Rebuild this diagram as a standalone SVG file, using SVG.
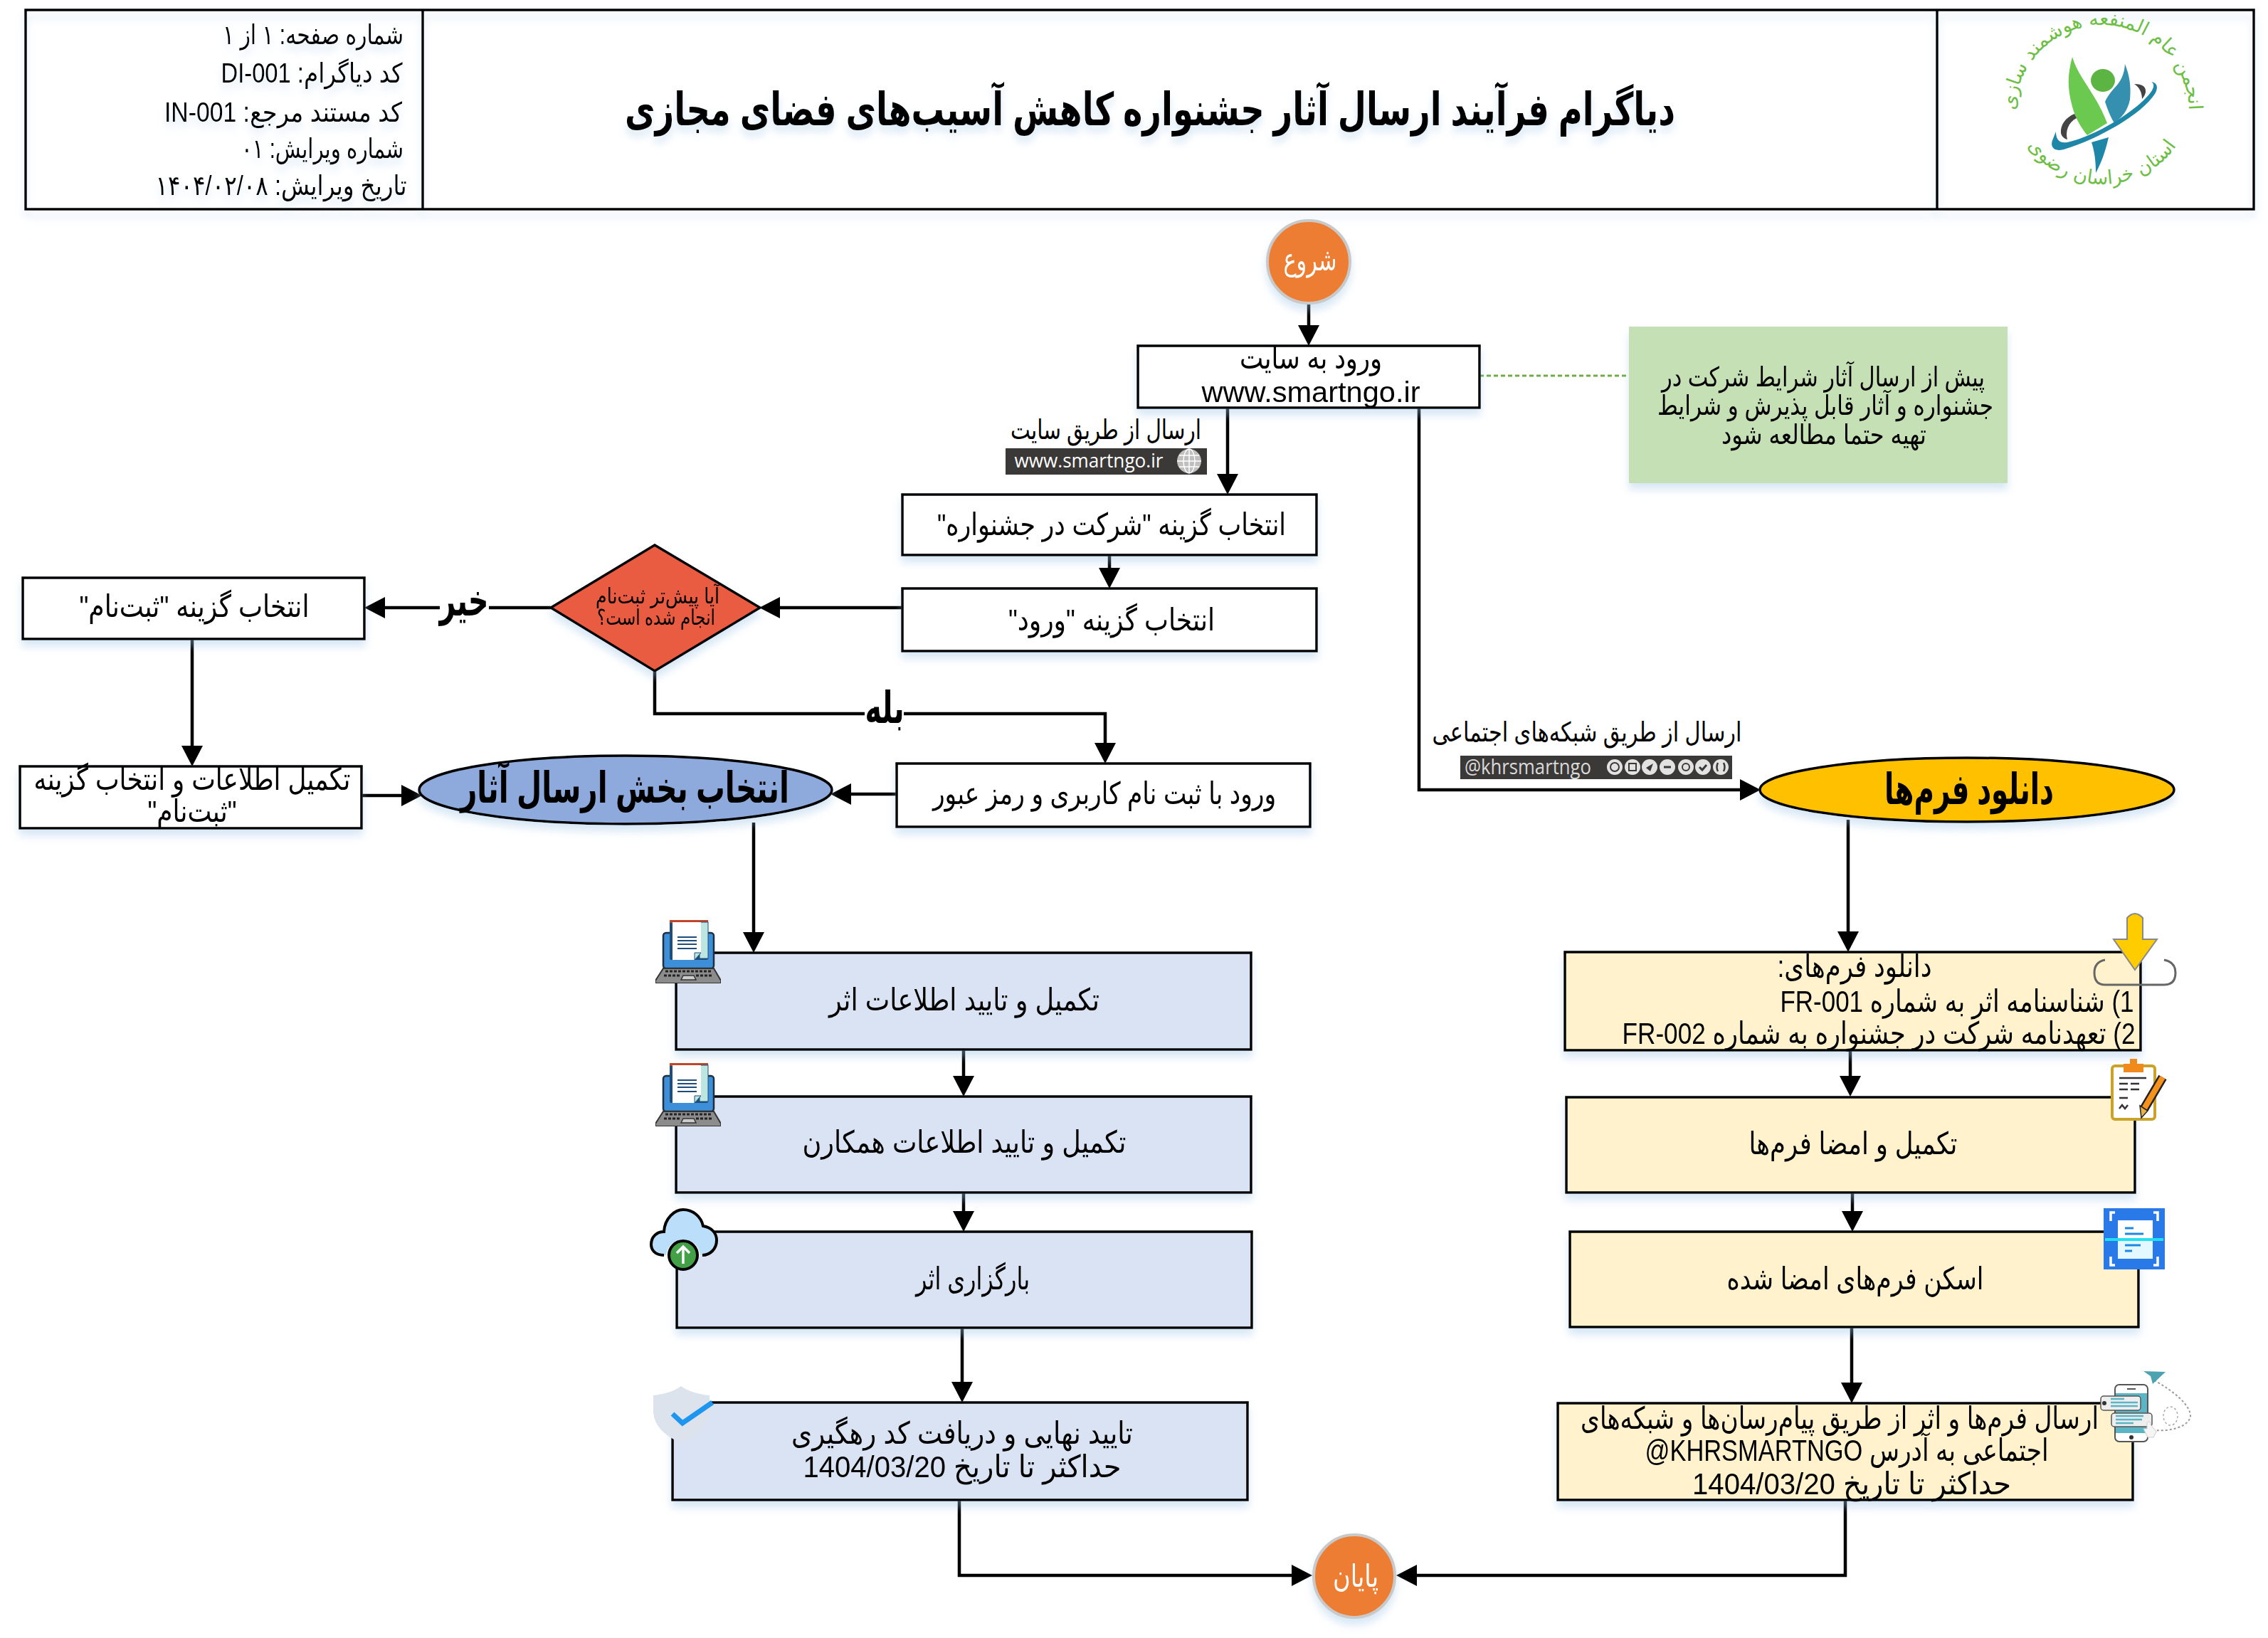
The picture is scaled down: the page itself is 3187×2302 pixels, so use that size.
<svg xmlns="http://www.w3.org/2000/svg" width="3187" height="2302" viewBox="0 0 3187 2302">
<style>
text{font-family:"Liberation Sans","DejaVu Sans",sans-serif;direction:rtl;text-anchor:middle;fill:#000;font-size:43px}
.b{font-weight:bold}
.w{fill:#fff}
.h{font-size:38px}
.ti{font-weight:bold;font-size:64px}
.big{font-weight:bold;font-size:60px}
.n{font-size:38px}
.box{stroke:#000;stroke-width:3.5}
.wh{fill:#fff}.bl{fill:#DAE3F3}.ye{fill:#FFF2CC}
.s{filter:url(#sh)}
.con{fill:none;stroke:#000;stroke-width:4.5;marker-end:url(#arr)}
.ic{fill:#E2E2E2}
.lt{font-size:27px;fill:#6DBE45;font-family:"DejaVu Sans",sans-serif}
.dk{fill:#3B3838}
</style>
<defs>
<filter id="sh" x="-15%" y="-15%" width="130%" height="140%"><feDropShadow dx="0" dy="9" stdDeviation="6" flood-color="#9DC3E6" flood-opacity="0.4"/></filter>
<marker id="arr" markerUnits="userSpaceOnUse" markerWidth="30" markerHeight="30" refX="0" refY="15" orient="auto"><path d="M0 0L29 15L0 30Z" fill="#000"/></marker>
<symbol id="laptop" width="92" height="90" viewBox="0 0 92 90">
<rect x="11" y="19" width="71" height="50" rx="4" fill="#3D8FD9" stroke="#1F2F3F" stroke-width="2.5"/>
<rect x="20" y="1" width="54" height="56" rx="2" fill="#1E4E79"/>
<rect x="20" y="1" width="54" height="4" fill="#C0452A"/>
<rect x="62" y="4" width="12" height="51" fill="#BDE6E0" stroke="#1E4E79" stroke-width="1"/>
<path d="M24 4H64V46L55 57H24Z" fill="#fff"/>
<path d="M55 57V47H64Z" fill="#BDE6E0" stroke="#1E4E79" stroke-width="1"/>
<path d="M31 25H58M31 30H58M31 35H58M31 41H58" stroke="#1E4E79" stroke-width="2" fill="none"/>
<path d="M11 69H82L92 86V90H0V86Z" fill="#8C8C8C" stroke="#333" stroke-width="2"/>
<path d="M14 73H79M12 79H36M57 79H81" stroke="#222" stroke-width="3" stroke-dasharray="4 2" fill="none"/>
<path d="M36 85L39 79H54L57 85Z" fill="#ccc" stroke="#333" stroke-width="1.5"/>
</symbol>
</defs>

<g id="connectors">
<path class="con" d="M1839 426V457"/>
<path class="con" d="M1725 573V666"/>
<path class="con" d="M1994 573V1110H2445"/>
<path d="M2079 528H2289" fill="none" stroke="#70AD47" stroke-width="3" stroke-dasharray="6 4"/>
<path class="con" d="M1559 780V798"/>
<path class="con" d="M1269 854H1096"/>
<path class="con" d="M774 854H541"/>
<path class="con" d="M270 898V1048"/>
<path class="con" d="M508 1118H564"/>
<path class="con" d="M1260 1116H1196"/>
<path class="con" d="M920 943V1003H1553V1044"/>
<path class="con" d="M1059 1156V1310"/>
<path class="con" d="M1354 1476V1512"/>
<path class="con" d="M1354 1676V1702"/>
<path class="con" d="M1352 1866V1942"/>
<path class="con" d="M1348 2108V2214H1815"/>
<path class="con" d="M2597 1152V1309"/>
<path class="con" d="M2600 1476V1512"/>
<path class="con" d="M2603 1676V1702"/>
<path class="con" d="M2602 1865V1943"/>
<path class="con" d="M2593 2108V2214H1991"/>
</g>

<g id="header" class="s">
<rect x="36" y="14" width="3131" height="280" fill="none" stroke="#000" stroke-width="3.5"/>
<path d="M594 14V294M2722 14V294" stroke="#000" stroke-width="3.5" fill="none"/>
<text class="h" x="440" y="62" textLength="254" lengthAdjust="spacingAndGlyphs">شماره صفحه: ۱ از ۱</text>
<text class="h" x="438" y="116" textLength="255" lengthAdjust="spacingAndGlyphs">کد دیاگرام: DI-001</text>
<text class="h" x="398" y="171" textLength="334" lengthAdjust="spacingAndGlyphs">کد مستند مرجع: IN-001</text>
<text class="h" x="453" y="222" textLength="228" lengthAdjust="spacingAndGlyphs">شماره ویرایش: ۰۱</text>
<text class="h" x="395" y="274" textLength="353" lengthAdjust="spacingAndGlyphs">تاریخ ویرایش: ۱۴۰۴/۰۲/۰۸</text>
<text class="ti" x="1616" y="176" textLength="1476" lengthAdjust="spacingAndGlyphs">دیاگرام فرآیند ارسال آثار جشنواره کاهش آسیب&#8204;های فضای مجازی</text>
</g>

<g id="logo">
<path d="M2912 80C2905 105 2905 125 2912 150C2917 168 2925 180 2933 190L2961 173C2956 160 2950 148 2942 135C2930 115 2918 100 2912 80Z" fill="#6CC94F"/>
<ellipse cx="2955" cy="113" rx="17" ry="16" fill="#5CB543"/>
<path d="M2986 90C2985 105 2980 115 2970 125C2964 132 2960 138 2958 143C2962 155 2966 165 2971 173C2982 165 2990 155 2993 140C2995 120 2992 105 2986 90Z" fill="#3590B0"/>
<path d="M2939 200L2963 193C2958 215 2952 230 2945 243C2945 225 2943 212 2939 200Z" fill="#1E86A6"/>
<path d="M3023 115C3032 116 3033 124 3028 132C3010 160 2950 195 2900 210C2885 214 2880 205 2885 195C2887 190 2888 187 2889 185C2889 195 2893 202 2905 200C2950 190 3010 150 3024 127C3028 120 3026 117 3023 115Z" fill="#1E86A6"/>
<path d="M2999 118C3011 118 3016 122 3015 130C3014 134 3012 137 3010 139C3010 130 3006 122 2999 118Z" fill="#444"/>
<path d="M2915 160C2903 165 2895 175 2896 187C2897 192 2901 195 2905 196C2902 185 2906 172 2918 166Z" fill="#444"/>
<path id="lgA" d="M2838 195A122 122 0 1 1 3070 195" fill="none"/>
<path id="lgB" d="M2838 185A128 128 0 0 0 3070 185" fill="none"/>
<text class="lt"><textPath href="#lgA" startOffset="50%">انجمن عام المنفعه هوشمند سازی</textPath></text>
<text class="lt"><textPath href="#lgB" startOffset="50%">استان خراسان رضوی</textPath></text>
</g>

<g id="start" class="s"><circle cx="1839" cy="368" r="58" fill="#ED7D31" stroke="#C9C9C9" stroke-width="4"/><text class="w" x="1841" y="380" textLength="75" lengthAdjust="spacingAndGlyphs">شروع</text></g>

<g id="enter" class="s"><rect class="box wh" x="1599" y="486" width="480" height="87"/>
<text x="1842" y="518" textLength="200" lengthAdjust="spacingAndGlyphs">ورود به سایت</text>
<text x="1842" y="565" style="font-size:40px" textLength="307" lengthAdjust="spacingAndGlyphs">www.smartngo.ir</text></g>

<g id="note" class="s"><rect x="2289" y="459" width="532" height="220" fill="#C5E0B4"/>
<text class="n" x="2562" y="543" textLength="454" lengthAdjust="spacingAndGlyphs">پیش از ارسال آثار شرایط شرکت در</text>
<text class="n" x="2565" y="583" textLength="472" lengthAdjust="spacingAndGlyphs">جشنواره و آثار قابل پذیرش و شرایط</text>
<text class="n" x="2563" y="624" textLength="288" lengthAdjust="spacingAndGlyphs">تهیه حتما مطالعه شود</text></g>

<g id="label-site"><text class="n" x="1554" y="617" textLength="268" lengthAdjust="spacingAndGlyphs">ارسال از طریق سایت</text>
<rect class="dk" x="1413" y="630" width="283" height="37"/>
<text class="w" x="1530" y="657" style="font-size:28px;font-family:'Open Sans',sans-serif;direction:ltr" textLength="209" lengthAdjust="spacingAndGlyphs">www.smartngo.ir</text>
<circle cx="1671" cy="648" r="17" fill="#BFBFBF"/>
<path d="M1654 648H1688M1657 640H1685M1657 656H1685M1671 631V665" stroke="#fff" stroke-width="1.5" fill="none"/><ellipse cx="1671" cy="648" rx="8" ry="17" fill="none" stroke="#fff" stroke-width="1.5"/></g>

<g id="pick-festival" class="s"><rect class="box wh" x="1268" y="695" width="582" height="85"/>
<text x="1562" y="752" textLength="490" lengthAdjust="spacingAndGlyphs">انتخاب گزینه "شرکت در جشنواره"</text></g>

<g id="pick-login" class="s"><rect class="box wh" x="1268" y="827" width="582" height="88"/>
<text x="1562" y="886" textLength="290" lengthAdjust="spacingAndGlyphs">انتخاب گزینه "ورود"</text></g>

<g id="decision" class="s"><path d="M920 766L1068 854L920 943L774 854Z" fill="#E95B42" stroke="#000" stroke-width="3.5"/>
<text x="924" y="848" style="font-size:30px" textLength="174" lengthAdjust="spacingAndGlyphs">آیا پیش&#8204;تر ثبت&#8204;نام</text>
<text x="922" y="878" style="font-size:30px" textLength="166" lengthAdjust="spacingAndGlyphs">انجام شده است؟</text></g>

<g id="label-no"><rect x="618" y="838" width="69" height="32" fill="#fff"/><text class="b" x="652" y="865" style="font-size:62px" textLength="69" lengthAdjust="spacingAndGlyphs">خیر</text></g>
<g id="label-yes"><rect x="1215" y="988" width="55" height="28" fill="#fff"/><text class="b" x="1243" y="1016" style="font-size:62px" textLength="55" lengthAdjust="spacingAndGlyphs">بله</text></g>

<g id="pick-register" class="s"><rect class="box wh" x="32" y="812" width="480" height="86"/>
<text x="273" y="867" textLength="323" lengthAdjust="spacingAndGlyphs">انتخاب گزینه "ثبت&#8204;نام"</text></g>

<g id="fill-register" class="s"><rect class="box wh" x="28" y="1077" width="480" height="87"/>
<text x="270" y="1110" textLength="445" lengthAdjust="spacingAndGlyphs">تکمیل اطلاعات و انتخاب گزینه</text>
<text x="270" y="1155" textLength="125" lengthAdjust="spacingAndGlyphs">"ثبت&#8204;نام"</text></g>

<g id="select-section" class="s"><ellipse cx="879" cy="1110" rx="290" ry="48" fill="#8EA9DB" stroke="#000" stroke-width="3.5"/>
<text class="big" x="878" y="1128" textLength="462" lengthAdjust="spacingAndGlyphs">انتخاب بخش ارسال آثار</text></g>

<g id="login" class="s"><rect class="box wh" x="1260" y="1073" width="581" height="89"/>
<text x="1552" y="1130" textLength="482" lengthAdjust="spacingAndGlyphs">ورود با ثبت نام کاربری و رمز عبور</text></g>

<g id="download-forms" class="s"><ellipse cx="2764" cy="1110" rx="291" ry="45" fill="#FFC000" stroke="#000" stroke-width="3.5"/>
<text class="big" x="2767" y="1130" textLength="238" lengthAdjust="spacingAndGlyphs">دانلود فرم&#8204;ها</text></g>

<g id="label-social"><text class="n" x="2230" y="1042" textLength="435" lengthAdjust="spacingAndGlyphs">ارسال از طریق شبکه&#8204;های اجتماعی</text>
<rect class="dk" x="2052" y="1062" width="382" height="33"/>
<text x="2147" y="1088" style="font-size:30px;font-family:'Open Sans',sans-serif;direction:ltr;fill:#D9D9D9" textLength="178" lengthAdjust="spacingAndGlyphs">@khrsmartngo</text>
<circle class="ic" cx="2269" cy="1078" r="11"/><circle class="ic" cx="2294" cy="1078" r="11"/><circle class="ic" cx="2318" cy="1078" r="11"/><circle class="ic" cx="2343" cy="1078" r="11"/><circle class="ic" cx="2369" cy="1078" r="11"/><circle class="ic" cx="2393" cy="1078" r="11"/><circle class="ic" cx="2418" cy="1078" r="11"/>
<circle cx="2269" cy="1078" r="6" fill="none" stroke="#3B3838" stroke-width="2"/><rect x="2289" y="1073" width="10" height="10" fill="none" stroke="#3B3838" stroke-width="2"/><path d="M2313 1079L2323 1073L2319 1084Z" fill="#3B3838"/><path d="M2338 1078h10" stroke="#3B3838" stroke-width="3" fill="none"/><circle cx="2369" cy="1078" r="5" fill="none" stroke="#3B3838" stroke-width="2"/><path d="M2388 1078l4 4l6-7" stroke="#3B3838" stroke-width="3" fill="none"/><path d="M2414 1072q-3 6 0 12M2422 1072q3 6 0 12" stroke="#3B3838" stroke-width="2.5" fill="none"/></g>

<g id="info-work" class="s"><rect class="box bl" x="950" y="1339" width="808" height="136"/>
<text x="1355" y="1420" textLength="380" lengthAdjust="spacingAndGlyphs">تکمیل و تایید اطلاعات اثر</text></g>
<g id="info-team" class="s"><rect class="box bl" x="950" y="1541" width="808" height="135"/>
<text x="1355" y="1620" textLength="455" lengthAdjust="spacingAndGlyphs">تکمیل و تایید اطلاعات همکارن</text></g>
<g id="upload" class="s"><rect class="box bl" x="951" y="1731" width="808" height="135"/>
<text x="1367" y="1812" textLength="160" lengthAdjust="spacingAndGlyphs">بارگزاری اثر</text></g>
<g id="confirm" class="s"><rect class="box bl" x="945" y="1971" width="808" height="137"/>
<text x="1352" y="2029" textLength="480" lengthAdjust="spacingAndGlyphs">تایید نهایی و دریافت کد رهگیری</text>
<text x="1352" y="2076" textLength="447" lengthAdjust="spacingAndGlyphs">حداکثر تا تاریخ 1404/03/20</text></g>

<g id="forms-list" class="s"><rect class="box ye" x="2199" y="1338" width="809" height="138"/>
<text x="2606" y="1373" textLength="217" lengthAdjust="spacingAndGlyphs">دانلود فرم&#8204;های:</text>
<text x="2750" y="1422" textLength="497" lengthAdjust="spacingAndGlyphs">1) شناسنامه اثر به شماره FR-001</text>
<text x="2640" y="1467" textLength="721" lengthAdjust="spacingAndGlyphs">2) تعهدنامه شرکت در جشنواره به شماره FR-002</text></g>
<g id="sign-forms" class="s"><rect class="box ye" x="2201" y="1542" width="799" height="134"/>
<text x="2604" y="1622" textLength="293" lengthAdjust="spacingAndGlyphs">تکمیل و امضا فرم&#8204;ها</text></g>
<g id="scan-forms" class="s"><rect class="box ye" x="2206" y="1731" width="799" height="134"/>
<text x="2607" y="1812" textLength="361" lengthAdjust="spacingAndGlyphs">اسکن فرم&#8204;های امضا شده</text></g>
<g id="send-forms" class="s"><rect class="box ye" x="2189" y="1972" width="808" height="136"/>
<text x="2585" y="2008" textLength="728" lengthAdjust="spacingAndGlyphs">ارسال فرم&#8204;ها و اثر از طریق پیام&#8204;رسان&#8204;ها و شبکه&#8204;های</text>
<text x="2595" y="2053" textLength="567" lengthAdjust="spacingAndGlyphs">اجتماعی به آدرس KHRSMARTNGO@</text>
<text x="2602" y="2100" textLength="448" lengthAdjust="spacingAndGlyphs">حداکثر تا تاریخ 1404/03/20</text></g>

<g id="end" class="s"><ellipse cx="1903" cy="2215" rx="57" ry="58" fill="#ED7D31" stroke="#C9C9C9" stroke-width="4"/><text class="w" x="1905" y="2230" textLength="64" lengthAdjust="spacingAndGlyphs">پایان</text></g>

<g id="icons">
<use href="#laptop" x="921" y="1292" width="92" height="90"/>
<use href="#laptop" x="921" y="1493" width="92" height="90"/>
<g id="icon-cloud"><path d="M933 1764C920 1764 915 1756 915 1749C915 1738 923 1731 933 1731C934 1712 948 1700 960 1700C973 1700 985 1709 988 1723C1000 1725 1007 1733 1007 1743C1007 1755 998 1764 987 1764" fill="#BBDEFB" stroke="#000" stroke-width="4"/>
<path d="M936 1766A24 24 0 0 1 984 1766Z" fill="#fff"/><circle cx="960" cy="1764" r="20" fill="#43A047" stroke="#000" stroke-width="4"/><path d="M960 1776V1752M951 1761L960 1752L969 1761" stroke="#fff" stroke-width="3.5" fill="none"/></g>
<g id="icon-shield"><path d="M957 1948Q970 1958 997 1961V1985Q995 2012 957 2028Q920 2012 918 1985V1961Q944 1958 957 1948Z" fill="#DDE3ED"/><path d="M945 1987L959 2000L1001 1971" fill="none" stroke="#1E96F0" stroke-width="7"/></g>
<g id="icon-download"><path d="M2958 1349Q2943 1352 2943 1367Q2943 1384 2958 1384H3041Q3057 1384 3057 1367Q3057 1352 3041 1349" fill="none" stroke="#666" stroke-width="3"/><path d="M2989 1290Q3000 1278 3011 1290V1320H3031L3000 1363L2970 1320H2989Z" fill="#FFCC00" stroke="#888" stroke-width="2"/></g>
<g id="icon-clip"><rect x="2968" y="1498" width="60" height="75" rx="4" fill="#fff" stroke="#C9A227" stroke-width="4"/><rect x="2984" y="1495" width="28" height="12" fill="#F08A1D"/><rect x="2993" y="1488" width="10" height="8" fill="#F08A1D"/>
<path d="M2978 1515H3016M2978 1523H2990M2994 1523H3006M2978 1531H2990M2994 1531H3006M2978 1543H2990M2978 1558L2982 1553L2986 1558L2990 1553" stroke="#333" stroke-width="2.5" fill="none"/>
<path d="M3039 1514L3013 1558" stroke="#222" stroke-width="13" fill="none"/><path d="M3039 1514L3013 1558" stroke="#F5921E" stroke-width="8" fill="none"/><path d="M3007 1554L3018 1561L3009 1571Z" fill="#E8B24A" stroke="#222" stroke-width="1.5"/></g>
<g id="icon-scan"><rect x="2956" y="1698" width="86" height="86" fill="#2979E8"/><rect x="2976" y="1715" width="49" height="27" fill="#fff"/><rect x="2976" y="1742" width="49" height="27" fill="#E4F8FF"/>
<path d="M2972 1704H2966V1716M3026 1704H3032V1716M2972 1778H2966V1766M3026 1778H3032V1766" stroke="#fff" stroke-width="3.5" fill="none"/>
<path d="M2986 1726H2998M2986 1734H3012M2986 1750H3008M2986 1758H2996" stroke="#1E88E5" stroke-width="3" fill="none"/><path d="M2958 1742H3040" stroke="#22E0F0" stroke-width="4" fill="none"/></g>
<g id="icon-phone"><path d="M3027 1940C3055 1955 3078 1975 3078 1990C3076 2005 3050 2012 3027 2010" fill="none" stroke="#999" stroke-width="2" stroke-dasharray="3 3"/><ellipse cx="3050" cy="1990" rx="10" ry="13" fill="none" stroke="#aaa" stroke-width="1.5" stroke-dasharray="3 3"/>
<path d="M3012 1927L3043 1928L3025 1945L3022 1934Z" fill="#4BA3B0"/>
<rect x="2972" y="1946" width="46" height="80" rx="6" fill="#fff" stroke="#555" stroke-width="2"/><rect x="2973" y="1958" width="44" height="56" fill="#5BB5C5"/><path d="M2989 1952H3001" stroke="#555" stroke-width="2"/><circle cx="2995" cy="2020" r="3" fill="#333"/>
<rect x="2952" y="1962" width="56" height="20" rx="4" fill="#EEE" stroke="#555" stroke-width="1.5"/><path d="M2966 1966H2985M2966 1971H3004M2966 1976H3004" stroke="#5BB5C5" stroke-width="2.5"/><circle cx="2957" cy="1972" r="3" fill="#333"/>
<rect x="2967" y="1986" width="57" height="19" rx="4" fill="#EEE" stroke="#555" stroke-width="1.5"/><path d="M2973 1990H3012M2973 1995H3010M2973 2000H2998" stroke="#5BB5C5" stroke-width="2.5"/>
<path d="M3017 2000C3019 1996 3022 1998 3022 2002L3030 2012L3026 2020H3018L3012 2008L3017 2008Z" fill="#F5F5F5" stroke="#ccc" stroke-width="1"/></g>
</g>
</svg>
